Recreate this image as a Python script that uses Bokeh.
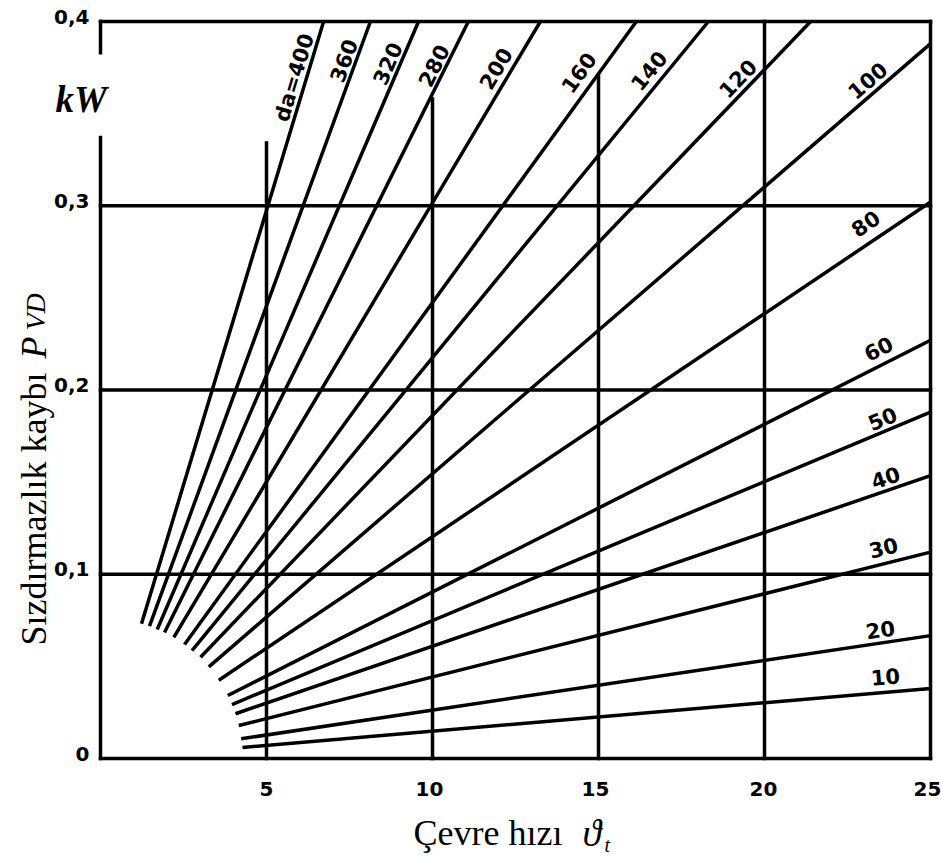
import math
from bokeh.plotting import figure
from bokeh.models import Label, Range1d
from bokeh.core.properties import value
from bokeh.embed import file_html
from bokeh.resources import INLINE

# ---------------- data ----------------
diameters = [400, 360, 320, 280, 200, 160, 140, 120, 100, 80, 60, 50, 40, 30, 20, 10]
line_labels = ["da=400", "360", "320", "280", "200", "160", "140", "120",
               "100", "80", "60", "50", "40", "30", "20", "10"]
# start of each line (on the arc near the origin)
v_start = [1.235, 1.476, 1.708, 1.928, 2.208, 2.53, 2.756, 3.012,
           3.262, 3.563, 3.834, 3.96, 4.066, 4.166, 4.238, 4.277]
p_start = [0.0731, 0.0719, 0.0700, 0.0684, 0.0657, 0.0619, 0.0586, 0.0550,
           0.0497, 0.0425, 0.0342, 0.0293, 0.0243, 0.0179, 0.0107, 0.0060]
# end of each line (top edge or right edge)
v_end = [6.72, 8.13, 9.58, 11.08, 13.25, 16.14, 18.31, 21.39,
         25, 25, 25, 25, 25, 25, 25, 25]
p_end = [0.4, 0.4, 0.4, 0.4, 0.4, 0.4, 0.4, 0.4,
         0.388, 0.302, 0.227, 0.188, 0.1535, 0.112, 0.0667, 0.038]

x_ticks = [5, 10, 15, 20, 25]
x_tick_labels = ["5", "10", "15", "20", "25"]
y_ticks = [0, 0.1, 0.2, 0.3, 0.4]
y_tick_labels = ["0", "0,1", "0,2", "0,3", "0,4"]
x_max = 25
y_max = 0.4
vgrid_x = [5, 10, 15, 20]
vgrid_top = [0.334, 0.358, 0.371, 0.4]
yaxis_gap = [0.337, 0.383]   # gap in left axis for "kW"

# label placement (layout)
lab_v = [5.84, 7.32, 8.64, 10.03, 11.90, 14.40, 16.51, 19.19,
         23.10, 23.04, 23.43, 23.55, 23.64, 23.58, 23.49, 23.64]
lab_p = [0.3696, 0.3788, 0.3772, 0.3761, 0.3745, 0.3723, 0.3734, 0.3691,
         0.3680, 0.2904, 0.2225, 0.1845, 0.1525, 0.1145, 0.0700, 0.0445]

# ---------------- figure (frame covers whole canvas) ----------------
W, H = 941, 857
xr = (-3.012, 25.331)
yr = (-0.05373, 0.41140)

p = figure(width=W, height=H, x_range=Range1d(*xr), y_range=Range1d(*yr),
           output_backend="svg", toolbar_location=None,
           x_axis_location=None, y_axis_location=None,
           min_border=0)
p.outline_line_color = None
p.grid.visible = False
p.background_fill_color = "white"
p.border_fill_color = "white"

# tick labels
p.text(x=x_ticks, y=[0] * len(x_ticks), text=x_tick_labels,
       x_offset=[0, -3, -3, -1, -3], y_offset=30,
       text_font=value("DejaVu Sans"), text_font_style="bold", text_font_size="20px",
       text_align="center", text_baseline="middle", text_color="black")
p.text(x=[0] * len(y_ticks), y=y_ticks, text=y_tick_labels, x_offset=-11, y_offset=-5,
       text_font=value("DejaVu Sans"), text_font_style="bold", text_font_size="20px",
       text_align="right", text_baseline="middle", text_color="black")

# ---------------- frame and grid ----------------
fx0, fy0, fx1, fy1 = [], [], [], []
def seg(a, b, c, d):
    fx0.append(a); fy0.append(b); fx1.append(c); fy1.append(d)

seg(0, 0, x_max, 0)
seg(0, y_max, x_max, y_max)
seg(x_max, 0, x_max, y_max)
seg(0, 0, 0, yaxis_gap[0])
seg(0, yaxis_gap[1], 0, y_max)
for yv in y_ticks[1:-1]:
    seg(0, yv, x_max, yv)
for xv, top in zip(vgrid_x, vgrid_top):
    seg(xv, 0, xv, top)

p.segment(fx0, fy0, fx1, fy1, line_color="black", line_width=3.5, line_cap="square")

# ---------------- the loss lines ----------------
p.segment(v_start, p_start, v_end, p_end, line_color="black", line_width=3.5, line_cap="butt")

# rotated labels along the lines
sx = W / (xr[1] - xr[0])
sy = H / (yr[1] - yr[0])
angles = [math.atan2((pe - ps) * sy, (ve - vs) * sx)
          for vs, ps, ve, pe in zip(v_start, p_start, v_end, p_end)]
p.text(x=lab_v, y=lab_p, text=line_labels, angle=angles,
       text_font=value("DejaVu Sans"), text_font_style="bold",
       text_font_size="21px", text_align="center", text_baseline="middle",
       text_color="black")

# ---------------- titles ----------------
serif = "Liberation Serif"
def lab(**kw):
    kw.setdefault("text_font", serif)
    kw.setdefault("text_color", "black")
    kw.setdefault("text_align", "left")
    kw.setdefault("text_baseline", "alphabetic")
    p.add_layout(Label(**kw))

lab(x=-1.355, y=0.3577, text="kW", text_font_style="bold italic", text_font_size="37px")

lab(x=-2.018, y=0.0613, text="Sızdırmazlık kaybı", angle=math.pi / 2, text_font_size="36px")
lab(x=-2.018, y=0.2171, text="P", angle=math.pi / 2, text_font_style="italic",
    text_font_size="36px")
lab(x=-1.958, y=0.2323, text="VD", angle=math.pi / 2, text_font_style="italic",
    text_font_size="28px")

lab(x=9.43, y=-0.0407, text="Çevre hızı", text_font_size="36px")
lab(x=14.52, y=-0.0407, text="ϑ", text_font_style="italic", text_font_size="38px")
lab(x=15.18, y=-0.0470, text="t", text_font_style="italic", text_font_size="20px")

open("out.html", "w").write(file_html(p, INLINE))
